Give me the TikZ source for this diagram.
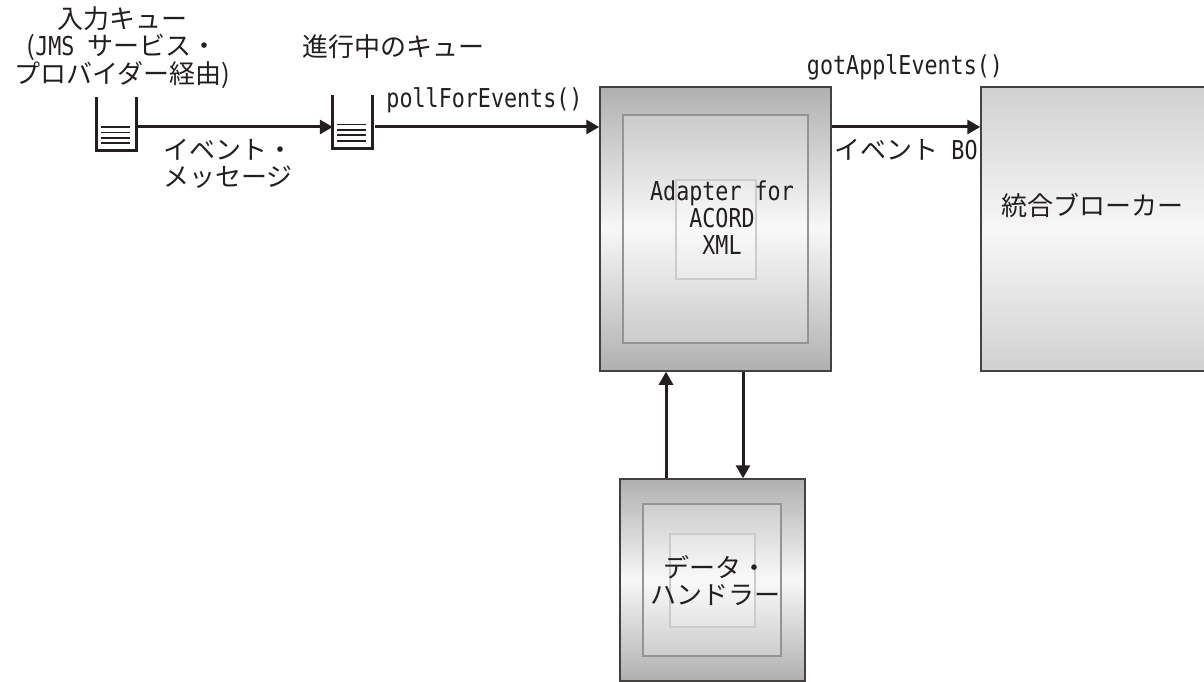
\documentclass[tikz,border=0pt]{standalone}
\usepackage{fontspec}
\usetikzlibrary{arrows.meta}
\setmainfont{Noto Sans CJK JP}
\newfontfamily\latf[FakeStretch=0.835]{DejaVu Sans Mono}
\newcommand\lt[1]{{\latf #1}}
\definecolor{ink}{HTML}{231F20}
\tikzset{
  lab/.style={font=\fontsize{26}{27}\selectfont,text=ink,align=center,inner sep=0pt,anchor=center},
  outerbox/.style={draw=ink!85,line width=1.5pt,inner sep=0pt,top color=#1,bottom color=#1,middle color=white!97!black},
  innerbox/.style={draw=black!42,line width=1.3pt,fill=white,fill opacity=.2,draw opacity=1,inner sep=0pt},
  corebox/.style={draw=black!20,line width=1.3pt,fill=white,fill opacity=.2,draw opacity=1,inner sep=0pt},
  queue/.style={inner sep=0pt,minimum width=39pt,minimum height=53pt},
  qline/.style={draw=ink,line width=2.8pt},
  qfill/.style={draw=ink,line width=1.1pt},
  conn/.style={draw=ink,line width=3pt,-{Triangle[length=13pt,width=14pt]}}
}
\begin{document}
\begin{tikzpicture}[x=1pt,y=-1pt]
\useasboundingbox (0,0) rectangle (1204,682);
% adapter
\node[outerbox=black!31,minimum width=231pt,minimum height=284pt] (adapter) at (715.5,229) {};
\node[innerbox,minimum width=185pt,minimum height=228pt] (adapterin) at (715.5,229) {};
\node[corebox,minimum width=80pt,minimum height=99pt] (adaptercore) at (716,229.5) {};
\node[lab] (adapterlab) at (722,218) {\lt{Adapter for}\\\lt{ACORD}\\\lt{XML}};
% broker
\node[outerbox=black!18,minimum width=224pt,minimum height=284pt] (broker) at (1093,229) {};
\node[lab] (brokerlab) at (1092,205) {統合ブローカー};
% data handler
\node[outerbox=black!31,minimum width=185pt,minimum height=202pt] (handler) at (712.5,580) {};
\node[innerbox,minimum width=138pt,minimum height=152pt] (handlerin) at (712,580) {};
\node[corebox,minimum width=85pt,minimum height=93pt] (handlercore) at (712.5,580.5) {};
\node[lab] (handlerlab) at (715,580.5) {データ・\\ハンドラー};
% queues
\node[queue] (qa) at (116.5,123.5) {};
\node[queue] (qb) at (352.5,121.5) {};
\draw[qline] (qa.north west) -- (qa.south west) -- (qa.south east) -- (qa.north east);
\draw[qline] (qb.north west) -- (qb.south west) -- (qb.south east) -- (qb.north east);
\foreach \d in {127,132.5,138,143}
  \draw[qfill] ([xshift=4pt]qa.west |- 0,\d) -- ([xshift=-6pt]qa.east |- 0,\d);
\foreach \d in {124.5,130,135,141}
  \draw[qfill] ([xshift=4pt]qb.west |- 0,\d) -- ([xshift=-6pt]qb.east |- 0,\d);
% connectors
\draw[conn] ([yshift=-3.5pt]qa.east) -- ([yshift=-5.5pt]qb.west);
\draw[conn,shorten <=3pt] ([yshift=-5.5pt]qb.east) -- ([yshift=102pt]adapter.west);
\draw[conn] ([yshift=102pt]adapter.east) -- ([yshift=102pt]broker.west);
\draw[conn] ([xshift=-46.5pt]handler.north) -- ([xshift=-46.5pt]handler.north |- adapter.south);
\draw[conn] ([xshift=30.5pt]handler.north |- adapter.south) -- ([xshift=30.5pt]handler.north);
% labels
\node[lab] (qalab) at (122,48) {入力キュー\\(\lt{JMS }サービス・\\プロバイダー経由)};
\node[lab] (qblab) at (393,47) {進行中のキュー};
\node[lab] (msglab) at (228,163.5) {イベント・\\メッセージ};
\node[lab] (polllab) at (484.5,100) {\lt{pollForEvents()}};
\node[lab] (gotlab) at (905,67) {\lt{gotApplEvents()}};
\node[lab] (bolab) at (906,150) {イベント\lt{ BO}};
\end{tikzpicture}
\end{document}
